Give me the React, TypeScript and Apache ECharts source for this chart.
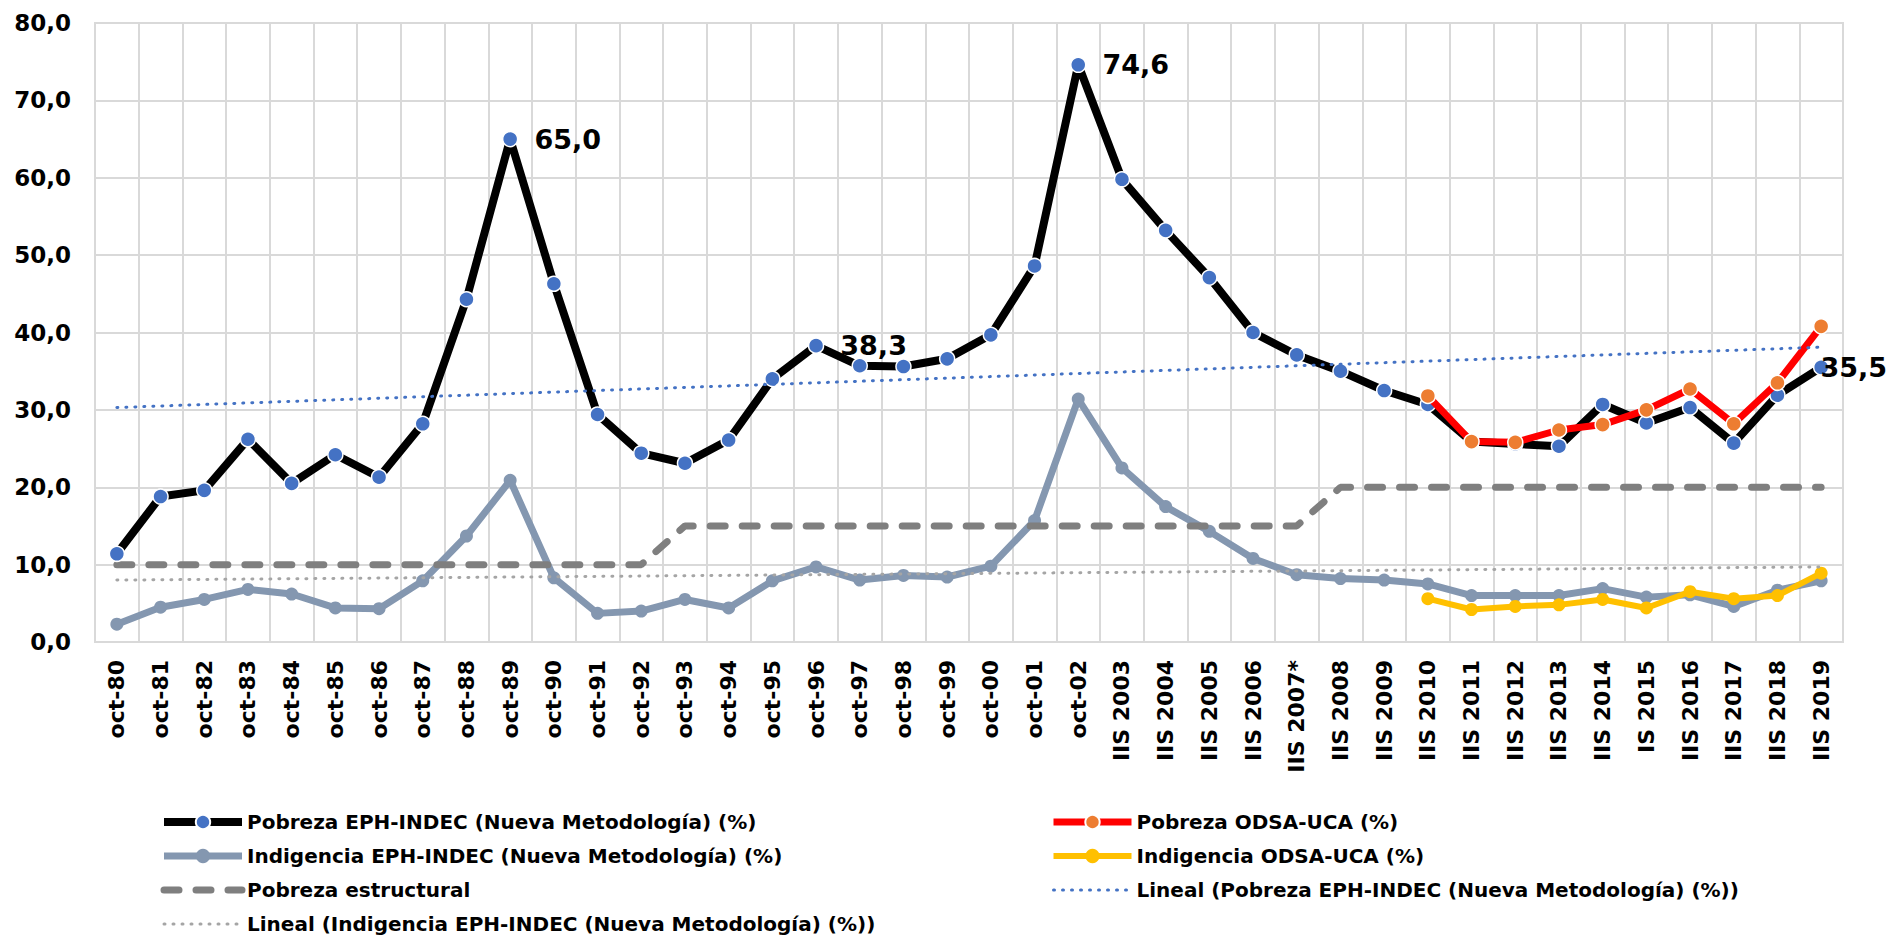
import React, { useEffect, useRef } from "react";
import * as echarts from "echarts";

const categories = [
  "oct-80", "oct-81", "oct-82", "oct-83", "oct-84", "oct-85", "oct-86", "oct-87", "oct-88", "oct-89",
  "oct-90", "oct-91", "oct-92", "oct-93", "oct-94", "oct-95", "oct-96", "oct-97", "oct-98", "oct-99",
  "oct-00", "oct-01", "oct-02", "IIS 2003", "IIS 2004", "IIS 2005", "IIS 2006", "IIS 2007*", "IIS 2008", "IIS 2009",
  "IIS 2010", "IIS 2011", "IIS 2012", "IIS 2013", "IIS 2014", "IS 2015", "IIS 2016", "IIS 2017", "IIS 2018", "IIS 2019",
];

const pobrezaEPH = [
  11.4, 18.8, 19.6, 26.2, 20.5, 24.2, 21.3, 28.2, 44.3, 65.0,
  46.3, 29.4, 24.4, 23.1, 26.1, 34.0, 38.3, 35.7, 35.6, 36.6,
  39.7, 48.6, 74.6, 59.8, 53.2, 47.1, 40.0, 37.1, 35.0, 32.5,
  30.7, 25.9, 25.6, 25.3, 30.7, 28.3, 30.3, 25.7, 31.9, 35.5,
];

const indigenciaEPH = [
  2.3, 4.5, 5.5, 6.8, 6.2, 4.4, 4.3, 7.9, 13.7, 20.9,
  8.3, 3.7, 4.0, 5.5, 4.4, 7.9, 9.7, 8.0, 8.6, 8.4,
  9.8, 15.7, 31.4, 22.5, 17.5, 14.3, 10.8, 8.7, 8.2, 8.0,
  7.5, 6.0, 6.0, 6.0, 6.9, 5.8, 6.1, 4.6, 6.7, 7.9,
];

const pobrezaODSA = [
  null, null, null, null, null, null, null, null, null, null,
  null, null, null, null, null, null, null, null, null, null,
  null, null, null, null, null, null, null, null, null, null,
  31.8, 25.9, 25.8, 27.4, 28.1, 30.0, 32.7, 28.2, 33.5, 40.8,
];

const indigenciaODSA = [
  null, null, null, null, null, null, null, null, null, null,
  null, null, null, null, null, null, null, null, null, null,
  null, null, null, null, null, null, null, null, null, null,
  5.6, 4.2, 4.6, 4.8, 5.5, 4.4, 6.5, 5.6, 6.0, 8.9,
];

const pobrezaEstructural = [
  10, 10, 10, 10, 10, 10, 10, 10, 10, 10,
  10, 10, 10, 15, 15, 15, 15, 15, 15, 15,
  15, 15, 15, 15, 15, 15, 15, 15, 20, 20,
  20, 20, 20, 20, 20, 20, 20, 20, 20, 20,
];

// Trend line endpoints (first and last category)
const trendPobreza = [30.3, 38.1];
const trendIndigencia = [8.0, 9.7];

// Points with value labels
const labeledPoints = ["oct-89", "oct-96", "oct-02", "IIS 2019"];

const FONT = "DejaVu Sans";
const fmt = (v: number) => v.toFixed(1).replace(".", ",");

const names = {
  pEPH: "Pobreza EPH-INDEC (Nueva Metodología) (%)",
  iEPH: "Indigencia EPH-INDEC (Nueva Metodología) (%)",
  est: "Pobreza estructural",
  tI: "Lineal (Indigencia EPH-INDEC (Nueva Metodología) (%))",
  pODSA: "Pobreza ODSA-UCA (%)",
  iODSA: "Indigencia ODSA-UCA (%)",
  tP: "Lineal (Pobreza EPH-INDEC (Nueva Metodología) (%))",
};

export default function App() {
  const ref = useRef<HTMLDivElement>(null);
  useEffect(() => {
    if (!ref.current) return;
    const chart = echarts.init(ref.current, null, { renderer: "svg" });
    const last = categories.length - 1;
    const trend = (ends: number[]) => categories.map((_, i) => (i === 0 ? ends[0] : i === last ? ends[1] : null));

    const pEPHData = pobrezaEPH.map((v, i) => {
      const c = categories[i];
      if (!labeledPoints.includes(c)) return v;
      const isLast = i === last;
      return {
        value: v,
        label: {
          show: true,
          position: "right",
          distance: isLast ? -9 : 16,
          formatter: (p: any) => fmt(p.value),
          fontFamily: FONT,
          fontWeight: "bold",
          fontSize: 27,
          color: "#000",
        },
      };
    });

    const legendText = { fontFamily: FONT, fontWeight: "bold", fontSize: 20, color: "#000", lineHeight: 22 };
    const noMarker = (name: string) => ({ name, itemStyle: { opacity: 0 } });
    const legendCommon = {
      orient: "vertical",
      top: 811,
      padding: 0,
      itemWidth: 78,
      itemHeight: 18,
      itemGap: 12,
      textStyle: legendText,
      lineStyle: { width: "inherit" },
    };

    chart.setOption({
      animation: false,
      backgroundColor: "#fff",
      grid: { left: 95, right: 50, top: 23, bottom: 296, show: true, borderColor: "#d9d9d9", borderWidth: 2 },
      legend: [
        {
          ...legendCommon,
          left: 160,
          data: [names.pEPH, names.iEPH, noMarker(names.est), noMarker(names.tI)],
        },
        {
          ...legendCommon,
          left: 1050,
          data: [names.pODSA, names.iODSA, noMarker(names.tP)],
        },
      ],
      xAxis: {
        type: "category",
        data: categories,
        boundaryGap: true,
        axisTick: { show: false },
        axisLine: { lineStyle: { color: "#d9d9d9", width: 2 } },
        splitLine: { show: true, lineStyle: { color: "#d9d9d9", width: 2 } },
        axisLabel: {
          rotate: 90,
          interval: 0,
          margin: 18,
          fontFamily: FONT,
          fontWeight: "bold",
          fontSize: 22,
          color: "#000",
        },
      },
      yAxis: {
        type: "value",
        min: 0,
        max: 80,
        interval: 10,
        axisLine: { show: false },
        axisTick: { show: false },
        splitLine: { lineStyle: { color: "#d9d9d9", width: 2 } },
        axisLabel: {
          margin: 24,
          formatter: (v: number) => fmt(v),
          fontFamily: FONT,
          fontWeight: "bold",
          fontSize: 23,
          color: "#000",
        },
      },
      series: [
        {
          name: names.iEPH,
          type: "line",
          data: indigenciaEPH,
          symbol: "circle",
          symbolSize: 13,
          lineStyle: { color: "#8497B0", width: 7 },
          itemStyle: { color: "#8497B0" },
          z: 2,
        },
        {
          name: names.est,
          type: "line",
          data: pobrezaEstructural,
          symbol: "none",
          lineStyle: { color: "#7f7f7f", width: 7, type: [15, 17], cap: "round" },
          itemStyle: { color: "#7f7f7f" },
          z: 3,
        },
        {
          name: names.pEPH,
          type: "line",
          data: pEPHData,
          symbol: "circle",
          symbolSize: 15,
          lineStyle: { color: "#000", width: 8 },
          itemStyle: { color: "#4472C4", borderColor: "#fff", borderWidth: 1.5 },
          z: 4,
        },
        {
          name: names.iODSA,
          type: "line",
          data: indigenciaODSA,
          symbol: "circle",
          symbolSize: 13,
          lineStyle: { color: "#FFC000", width: 6 },
          itemStyle: { color: "#FFC000" },
          z: 5,
        },
        {
          name: names.pODSA,
          type: "line",
          data: pobrezaODSA,
          symbol: "circle",
          symbolSize: 15,
          lineStyle: { color: "#FF0000", width: 7 },
          itemStyle: { color: "#ED7D31", borderColor: "#fff", borderWidth: 1.5 },
          z: 6,
        },
        {
          name: names.tP,
          type: "line",
          data: trend(trendPobreza),
          connectNulls: true,
          symbol: "none",
          lineStyle: { color: "#4472C4", width: 3, type: [1, 8], cap: "round" },
          itemStyle: { color: "#4472C4" },
          z: 7,
        },
        {
          name: names.tI,
          type: "line",
          data: trend(trendIndigencia),
          connectNulls: true,
          symbol: "none",
          lineStyle: { color: "#A5A5A5", width: 3, type: [1, 8], cap: "round" },
          itemStyle: { color: "#A5A5A5" },
          z: 7,
        },
      ],
    });
    return () => chart.dispose();
  }, []);

  return (
    <div
      ref={ref}
      style={{ position: "fixed", left: 0, top: 0, width: 1893, height: 938, background: "#fff" }}
    />
  );
}
